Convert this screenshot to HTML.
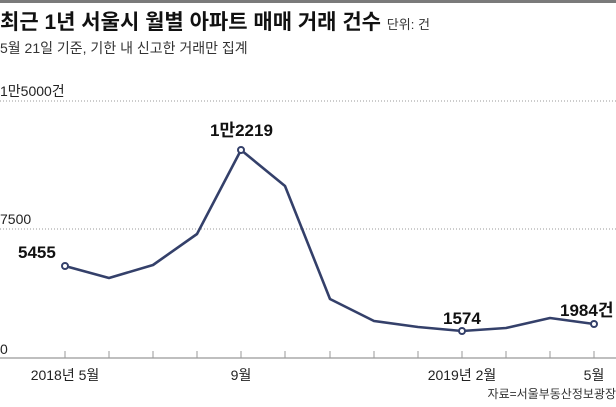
<!DOCTYPE html>
<html><head><meta charset="utf-8"><style>
body{margin:0;background:#fff;}
svg text{font-family:"Liberation Sans","Noto Sans CJK KR",sans-serif;}
</style></head><body>
<svg width="616" height="402" viewBox="0 0 616 402" xmlns="http://www.w3.org/2000/svg">
<rect x="0" y="0" width="616" height="3" fill="#7a7a7a"/>
<text x="0" y="29" font-size="21" font-weight="bold" fill="#111">최근 1년 서울시 월별 아파트 매매 거래 건수 <tspan font-size="13" font-weight="normal" fill="#333">단위: 건</tspan></text>
<text x="0" y="53" font-size="14" fill="#333">5월 21일 기준, 기한 내 신고한 거래만 집계</text>
<text x="0" y="96" font-size="14" fill="#222">1만5000건</text>
<line x1="0" y1="101" x2="616" y2="101" stroke="#999" stroke-dasharray="1,2"/>
<text x="0" y="224" font-size="14" fill="#222">7500</text>
<line x1="0" y1="229" x2="616" y2="229" stroke="#999" stroke-dasharray="1,2"/>
<text x="0" y="354" font-size="14" fill="#222">0</text>
<line x1="0" y1="358" x2="616" y2="358" stroke="#999" stroke-width="1.2"/>
<g stroke="#999" stroke-width="1">
<line x1="65" y1="351" x2="65" y2="358"/><line x1="109" y1="351" x2="109" y2="358"/><line x1="153" y1="351" x2="153" y2="358"/><line x1="197" y1="351" x2="197" y2="358"/><line x1="241" y1="351" x2="241" y2="358"/><line x1="285" y1="351" x2="285" y2="358"/><line x1="330" y1="351" x2="330" y2="358"/><line x1="374" y1="351" x2="374" y2="358"/><line x1="418" y1="351" x2="418" y2="358"/><line x1="462" y1="351" x2="462" y2="358"/><line x1="506" y1="351" x2="506" y2="358"/><line x1="550" y1="351" x2="550" y2="358"/><line x1="594" y1="351" x2="594" y2="358"/>
</g>
<polyline fill="none" stroke="#34406a" stroke-width="2.6" stroke-linejoin="round" points="65,266 109,278 153,265 197,234 241,150 285,186 330,299 374,321 418,327 462,331 506,328 550,318 594,324"/>
<g fill="#fff" stroke="#34406a" stroke-width="2">
<circle cx="65" cy="266" r="3"/><circle cx="241" cy="150" r="3"/><circle cx="462" cy="331" r="3"/><circle cx="594" cy="324" r="3"/>
</g>
<g font-size="17" font-weight="bold" fill="#111">
<text x="18" y="258">5455</text>
<text x="210" y="136">1만2219</text>
<text x="443" y="324">1574</text>
<text x="560" y="316">1984건</text>
</g>
<g font-size="14" fill="#222" text-anchor="middle">
<text x="65" y="380">2018년 5월</text>
<text x="241" y="380">9월</text>
<text x="462" y="380">2019년 2월</text>
<text x="594" y="380">5월</text>
</g>
<text x="616" y="398" font-size="12" fill="#333" text-anchor="end">자료=서울부동산정보광장</text>
</svg>
</body></html>
